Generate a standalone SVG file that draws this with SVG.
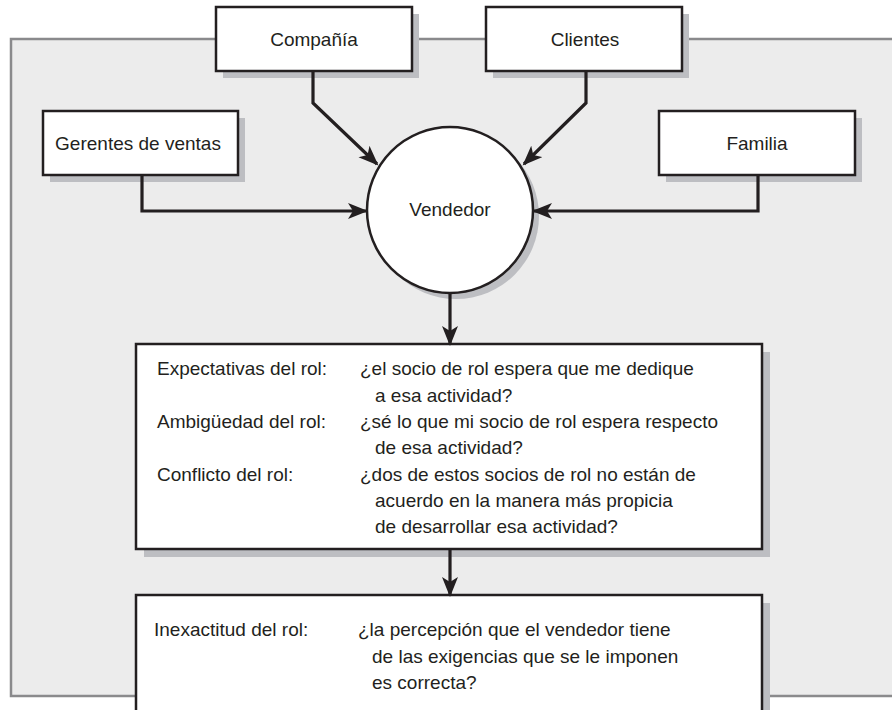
<svg xmlns="http://www.w3.org/2000/svg" width="892" height="710" viewBox="0 0 892 710">
<defs>
<style>
.box{fill:#fff;stroke:#231f20;stroke-width:2.5}
.sh{fill:#bdbec2}
.lbl{font-family:"Liberation Sans",Arial,sans-serif;font-size:19px;fill:#231f20;text-anchor:middle}
.txt{font-family:"Liberation Sans",Arial,sans-serif;font-size:19px;fill:#231f20}
.con{fill:none;stroke:#231f20;stroke-width:3.2;stroke-linejoin:miter}
</style>
<marker id="ah" markerUnits="userSpaceOnUse" markerWidth="22" markerHeight="18" refX="18" refY="8" orient="auto">
<path d="M0,0 L20,8 L0,16 L5,8 Z" fill="#231f20"/>
</marker>
</defs>
<rect x="11" y="39" width="895" height="657" fill="#ececec" stroke="#8a8a8c" stroke-width="2.5"/>
<g id="compania">
<rect class="sh" x="223" y="14" width="196" height="64"/>
<rect class="box" x="216" y="7" width="196" height="64"/>
<text class="lbl" x="314" y="46">Compañía</text>
</g>
<g id="clientes">
<rect class="sh" x="493" y="14" width="196" height="64"/>
<rect class="box" x="486" y="7" width="196" height="64"/>
<text class="lbl" x="585" y="46">Clientes</text>
</g>
<g id="gerentes">
<rect class="sh" x="50" y="118" width="195" height="64"/>
<rect class="box" x="43" y="111" width="195" height="64"/>
<text class="lbl" x="138" y="150">Gerentes de ventas</text>
</g>
<g id="familia">
<rect class="sh" x="666" y="118" width="196" height="64"/>
<rect class="box" x="659" y="111" width="196" height="64"/>
<text class="lbl" x="757" y="150">Familia</text>
</g>
<g id="vendedor">
<circle class="sh" cx="456" cy="216" r="83"/>
<circle class="box" cx="450" cy="210" r="83"/>
<text class="lbl" x="450" y="216">Vendedor</text>
</g>
<g id="roles">
<rect class="sh" x="144" y="352" width="626" height="205"/>
<rect class="box" x="136" y="344" width="626" height="205"/>
<text class="txt" x="157" y="375">Expectativas del rol:</text>
<text class="txt" x="360" y="375">¿el socio de rol espera que me dedique</text>
<text class="txt" x="375" y="402">a esa actividad?</text>
<text class="txt" x="157" y="428">Ambigüedad del rol:</text>
<text class="txt" x="360" y="428">¿sé lo que mi socio de rol espera respecto</text>
<text class="txt" x="375" y="454">de esa actividad?</text>
<text class="txt" x="157" y="481">Conflicto del rol:</text>
<text class="txt" x="360" y="481">¿dos de estos socios de rol no están de</text>
<text class="txt" x="375" y="507">acuerdo en la manera más propicia</text>
<text class="txt" x="375" y="533">de desarrollar esa actividad?</text>
</g>
<g id="inexactitud">
<rect class="sh" x="144" y="603" width="626" height="130"/>
<rect class="box" x="136" y="595" width="626" height="130"/>
<text class="txt" x="154" y="636">Inexactitud del rol:</text>
<text class="txt" x="358" y="636">¿la percepción que el vendedor tiene</text>
<text class="txt" x="372" y="663">de las exigencias que se le imponen</text>
<text class="txt" x="372" y="689">es correcta?</text>
</g>
<g id="connectors">
<path class="con" d="M313,71 V103 L377,164" marker-end="url(#ah)"/>
<path class="con" d="M586,71 V103 L524,164" marker-end="url(#ah)"/>
<path class="con" d="M142,175 V211 H366" marker-end="url(#ah)"/>
<path class="con" d="M758,175 V211 H534" marker-end="url(#ah)"/>
<path class="con" d="M450,293 V344" marker-end="url(#ah)"/>
<path class="con" d="M450,549 V595" marker-end="url(#ah)"/>
</g>
</svg>
